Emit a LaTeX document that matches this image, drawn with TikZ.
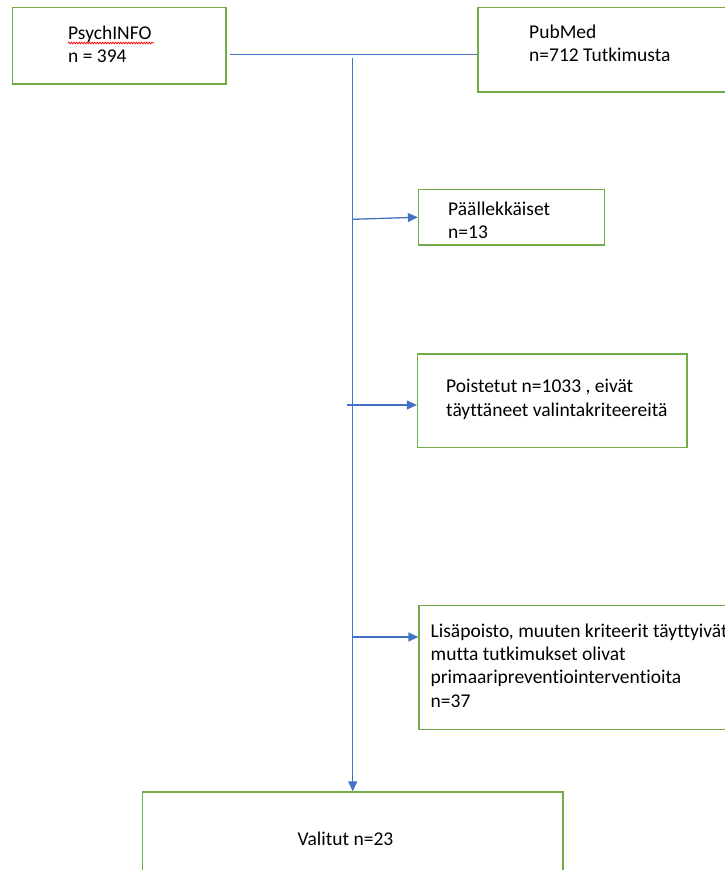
\documentclass[tikz,border=0pt]{standalone}
\usepackage{fontspec}
\setmainfont{Carlito}[Ligatures=NoCommon]
\usetikzlibrary{arrows.meta,decorations.pathmorphing,fit}
\definecolor{boxgreen}{HTML}{70AD47}
\definecolor{lineblue}{HTML}{4472C4}
\newcommand{\txtfont}{\fontsize{19.5}{23.2}\selectfont}
\begin{document}
\begin{tikzpicture}[x=1pt,y=-1pt,
  gbox/.style={draw=boxgreen, line width=1.3pt, inner sep=0pt, rectangle},
  bl/.style={draw=lineblue, line width=1.3pt},
  arr/.style={-{Triangle[length=10pt,width=9pt]}},
  txt/.style={anchor=north west, inner sep=0pt, align=left, font=\txtfont, text=black}]
\useasboundingbox (0,0) rectangle (724,870);
% boxes
\node[gbox, fit={(12.5,7.5) (226,84)}] (psy) {};
\node[gbox, fit={(478,7.5) (745,92)}] (pub) {};
\node[gbox, fit={(418.5,189.5) (604.5,245)}] (paa) {};
\node[gbox, fit={(417.5,354) (687,447.5)}] (poi) {};
\node[gbox, fit={(419,605.5) (745,729.5)}] (lis) {};
\node[gbox, fit={(142.5,792) (563,900)}] (val) {};
% texts (first baseline = top + 16.24)
\node[txt] (tpsy) at (68,22.8) {\strut PsychINFO\\n = 394};
\node[txt] (tpub) at (529,22.1) {\strut PubMed\\n=712 Tutkimusta};
\node[txt] (tpaa) at (448,198.8) {\strut Päällekkäiset\\n=13};
\node[txt] (tpoi) at (446,376.5) {\strut Poistetut n=1033 , eivät\\täyttäneet valintakriteereitä};
\node[txt] (tlis) at (430.5,621.1) {\strut Lisäpoisto, muuten kriteerit täyttyivät\\mutta tutkimukset olivat\\primaaripreventiointerventioita\\n=37};
\node[anchor=base, inner sep=0pt, font=\txtfont] (tval) at (345.5,845) {Valitut n=23};
% spell-check squiggle
\draw[red, line width=0.7pt, decorate, decoration={snake, amplitude=0.9pt, segment length=2.6pt}] (68,43) -- (154,43);
% connectors
\coordinate (hl) at (0,54.3);
\coordinate (trunk) at (352.7,58);
\coordinate (b1) at (352.7,219.3);
\coordinate (b2) at (347,405);
\coordinate (b3) at (352.7,637);
\draw[bl] ([xshift=3.5pt]psy.east |- hl) -- (pub.west |- hl);
\draw[bl, arr] (trunk) -- (val.north -| trunk);
\draw[bl, arr] (b1) -- (paa.west);
\draw[bl, arr] (b2) -- (poi.west |- b2);
\draw[bl, arr] (b3) -- (lis.west |- b3);
\end{tikzpicture}
\end{document}
